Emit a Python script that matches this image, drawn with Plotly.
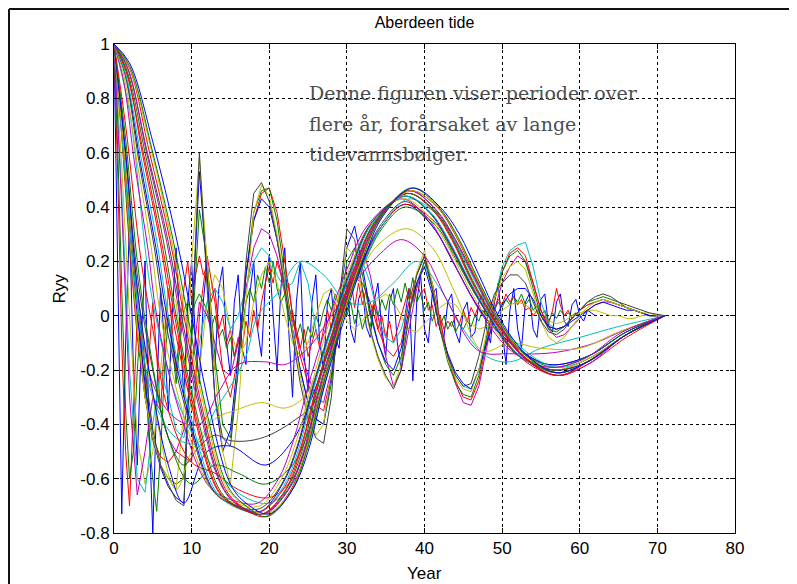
import numpy as np
import plotly.graph_objects as go

# ---------------- data ----------------
X_TICKS = [0, 10, 20, 30, 40, 50, 60, 70, 80]
Y_TICKS = [1, 0.8, 0.6, 0.4, 0.2, 0, -0.2, -0.4, -0.6, -0.8]
Y_TICK_TEXT = ["1", "0.8", "0.6", "0.4", "0.2", "0", "-0.2", "-0.4", "-0.6", "-0.8"]

# main bundle (long period), smooth curves: knot years and Ryy values
yrs_b01 = [0, 2, 5, 8, 10, 12, 15, 17, 20, 23, 25, 27, 29.8, 32, 34.5, 38.5, 42, 44.5, 47, 49.5, 53, 57, 61, 66, 71]
ryy_b01 = [1, 0.93, 0.64, 0.29, 0, -0.30, -0.62, -0.69, -0.73, -0.64, -0.50, -0.27, 0, 0.19, 0.36, 0.47, 0.40, 0.30, 0.15, 0, -0.14, -0.21, -0.17, -0.07, 0]
yrs_b02 = [0, 2, 5, 7.6, 9.5, 11.6, 14.7, 17, 19.7, 22.8, 24.8, 26.8, 29.6, 31.8, 34.3, 38.3, 41.8, 44.3, 46.8, 49.3, 52.8, 57, 61, 66, 71]
ryy_b02 = [1, 0.92, 0.60, 0.28, 0, -0.31, -0.63, -0.70, -0.74, -0.65, -0.50, -0.27, 0, 0.19, 0.36, 0.47, 0.40, 0.29, 0.14, 0, -0.14, -0.21, -0.17, -0.07, 0]
yrs_b03 = [0, 2, 4.5, 7.2, 9, 11.2, 14.4, 16.8, 19.5, 22.6, 24.6, 26.6, 29.4, 31.6, 34.1, 38.2, 41.6, 44.1, 46.6, 49.2, 52.8, 57.2, 61, 66, 71]
ryy_b03 = [1, 0.91, 0.61, 0.28, 0, -0.32, -0.64, -0.71, -0.74, -0.65, -0.51, -0.28, 0, 0.19, 0.35, 0.46, 0.40, 0.29, 0.14, 0, -0.15, -0.22, -0.17, -0.07, 0]
yrs_b04 = [0, 1.8, 4.2, 6.8, 8.5, 10.8, 14.1, 16.6, 19.3, 22.4, 24.4, 26.4, 29.2, 31.4, 33.9, 38, 41.4, 43.9, 46.4, 49, 52.6, 57, 61, 66, 71]
ryy_b04 = [1, 0.91, 0.60, 0.27, 0, -0.32, -0.64, -0.71, -0.73, -0.64, -0.50, -0.27, 0, 0.19, 0.35, 0.46, 0.39, 0.28, 0.14, 0, -0.15, -0.22, -0.18, -0.07, 0]
yrs_b05 = [0, 1.7, 4, 6.4, 8, 10.4, 13.8, 16.4, 19.2, 22.2, 24.2, 26.2, 29, 31.2, 33.7, 37.8, 41.2, 43.7, 46.2, 48.8, 52.4, 57, 61, 66, 71]
ryy_b05 = [1, 0.90, 0.60, 0.27, 0, -0.33, -0.65, -0.71, -0.73, -0.64, -0.50, -0.27, 0, 0.18, 0.35, 0.45, 0.39, 0.28, 0.13, 0, -0.14, -0.21, -0.17, -0.07, 0]
yrs_b06 = [0, 1.6, 3.7, 6, 7.5, 10, 13.5, 16.2, 19, 22, 24, 26, 28.8, 31, 33.5, 37.8, 41, 43.5, 46, 48.6, 52.2, 57, 61, 66, 71]
ryy_b06 = [1, 0.90, 0.59, 0.26, 0, -0.33, -0.65, -0.71, -0.72, -0.63, -0.49, -0.27, 0, 0.18, 0.34, 0.45, 0.39, 0.28, 0.13, 0, -0.15, -0.22, -0.18, -0.08, 0]
yrs_b07 = [0, 1.5, 3.5, 5.6, 7, 9.6, 13.2, 16, 19, 21.8, 23.8, 25.8, 28.6, 30.8, 33.3, 37.6, 40.8, 43.3, 45.8, 48.4, 52, 56.8, 61, 66, 71]
ryy_b07 = [1, 0.89, 0.58, 0.26, 0, -0.34, -0.65, -0.71, -0.72, -0.63, -0.49, -0.26, 0, 0.18, 0.34, 0.44, 0.38, 0.27, 0.13, 0, -0.14, -0.21, -0.17, -0.07, 0]
yrs_b08 = [0, 1.4, 3.2, 5.2, 6.5, 9.2, 12.9, 15.8, 18.8, 21.6, 23.6, 25.6, 28.4, 30.6, 33.1, 37.5, 40.6, 43.1, 45.6, 48.2, 51.8, 56.5, 61, 66, 71]
ryy_b08 = [1, 0.89, 0.57, 0.25, 0, -0.34, -0.65, -0.70, -0.71, -0.62, -0.48, -0.26, 0, 0.18, 0.34, 0.44, 0.38, 0.27, 0.13, 0, -0.14, -0.20, -0.17, -0.07, 0]
yrs_b09 = [0, 1.3, 3, 4.8, 6, 8.8, 12.6, 15.6, 18.8, 21.4, 23.4, 25.4, 28, 30.3, 32.9, 37.3, 40.4, 42.9, 45.4, 47.8, 51.5, 56.5, 61, 66, 71]
ryy_b09 = [1, 0.88, 0.56, 0.25, 0, -0.35, -0.64, -0.69, -0.70, -0.61, -0.47, -0.26, 0, 0.17, 0.33, 0.43, 0.37, 0.26, 0.12, 0, -0.13, -0.20, -0.16, -0.07, 0]
yrs_b10 = [0, 1.2, 2.7, 4.4, 5.5, 8.4, 12.3, 15.4, 18.5, 21.2, 23.1, 25.1, 27.8, 30, 32.6, 37, 40.1, 42.6, 45.1, 47.5, 51.2, 56, 60.5, 65.5, 71]
ryy_b10 = [1, 0.87, 0.55, 0.24, 0, -0.35, -0.63, -0.68, -0.69, -0.60, -0.46, -0.25, 0, 0.17, 0.33, 0.43, 0.37, 0.26, 0.12, 0, -0.13, -0.19, -0.16, -0.06, 0]
yrs_b11 = [0, 1.9, 4.8, 7.4, 9.2, 11.4, 14.5, 16.9, 19.6, 22.7, 24.7, 26.7, 29.5, 31.7, 34.2, 38.2, 41.7, 44.2, 46.7, 49.2, 52.7, 57, 61, 66, 71]
ryy_b11 = [1, 0.92, 0.61, 0.28, 0, -0.31, -0.63, -0.70, -0.73, -0.65, -0.50, -0.27, 0, 0.19, 0.35, 0.46, 0.40, 0.29, 0.14, 0, -0.14, -0.21, -0.17, -0.07, 0]
yrs_b12 = [0, 1.75, 4.3, 7, 8.7, 11, 14.2, 16.7, 19.4, 22.5, 24.5, 26.5, 29.3, 31.5, 34, 38.1, 41.5, 44, 46.5, 49.1, 52.7, 57.1, 61, 66, 71]
ryy_b12 = [1, 0.91, 0.60, 0.27, 0, -0.32, -0.64, -0.71, -0.73, -0.64, -0.50, -0.27, 0, 0.19, 0.35, 0.46, 0.39, 0.28, 0.14, 0, -0.15, -0.22, -0.17, -0.07, 0]
yrs_b13 = [0, 1.55, 3.85, 6.2, 7.8, 10.2, 13.6, 16.3, 19.1, 22.1, 24.1, 26.1, 28.9, 31.1, 33.6, 37.8, 41.1, 43.6, 46.1, 48.7, 52.3, 57, 61, 66, 71]
ryy_b13 = [1, 0.90, 0.59, 0.26, 0, -0.33, -0.65, -0.71, -0.73, -0.64, -0.49, -0.27, 0, 0.18, 0.34, 0.45, 0.39, 0.28, 0.13, 0, -0.14, -0.21, -0.17, -0.07, 0]
yrs_b14 = [0, 1.45, 3.35, 5.4, 6.8, 9.4, 13, 15.9, 18.9, 21.7, 23.7, 25.7, 28.5, 30.7, 33.2, 37.5, 40.7, 43.2, 45.7, 48.3, 51.9, 56.7, 61, 66, 71]
ryy_b14 = [1, 0.89, 0.57, 0.25, 0, -0.34, -0.65, -0.70, -0.72, -0.62, -0.48, -0.26, 0, 0.18, 0.34, 0.44, 0.38, 0.27, 0.13, 0, -0.14, -0.20, -0.17, -0.07, 0]

# shallower long-period curves
yrs_s1 = [0, 2, 4, 5, 8, 11, 14, 17, 20, 23, 25, 27, 29.5, 32, 34.5, 38, 42, 44.5, 47, 49, 53, 57, 61, 66, 71]
ryy_s1 = [1, 0.75, 0.25, 0.05, -0.30, -0.48, -0.60, -0.67, -0.69, -0.62, -0.48, -0.27, 0, 0.18, 0.33, 0.43, 0.36, 0.24, 0.10, 0, -0.13, -0.19, -0.16, -0.07, 0]
yrs_s2 = [0, 1.5, 3.5, 5, 7, 10, 13, 16, 20, 23, 25, 27, 29.3, 32, 34.5, 37.5, 41.5, 44, 46.5, 48.5, 52.5, 56.5, 61, 66, 71]
ryy_s2 = [1, 0.70, 0.20, -0.05, -0.35, -0.54, -0.58, -0.64, -0.67, -0.60, -0.46, -0.25, 0, 0.19, 0.33, 0.41, 0.34, 0.22, 0.09, 0, -0.13, -0.20, -0.16, -0.07, 0]
yrs_s3 = [0, 1.5, 3, 4.5, 7, 10, 13, 16, 19.5, 23, 25, 27, 29.2, 32, 34.5, 37.5, 41.5, 44, 46.5, 48.5, 52.5, 56.5, 61, 66, 71]
ryy_s3 = [1, 0.65, 0.20, -0.10, -0.45, -0.62, -0.55, -0.58, -0.62, -0.55, -0.43, -0.24, 0, 0.18, 0.32, 0.40, 0.33, 0.21, 0.08, 0, -0.13, -0.19, -0.15, -0.06, 0]
yrs_s4 = [0, 1.5, 3, 4.5, 7, 9, 12, 15, 19.5, 23, 25.5, 28, 30, 32, 34.5, 37.5, 41, 44, 46.5, 48.5, 52, 56, 61, 66, 71]
ryy_s4 = [1, 0.60, 0.10, -0.20, -0.55, -0.69, -0.50, -0.48, -0.55, -0.46, -0.30, -0.10, 0.05, 0.20, 0.33, 0.41, 0.33, 0.18, 0.05, -0.03, -0.12, -0.18, -0.15, -0.06, 0]
yrs_s5 = [0, 1.5, 3, 5, 7, 9, 11, 13, 15, 17.5, 20, 23, 25.5, 28, 30, 32, 34.5, 37.5, 41, 44, 46.5, 48.5, 52, 56, 61, 66, 71]
ryy_s5 = [1, 0.60, 0.15, -0.20, -0.45, -0.55, -0.48, -0.44, -0.46, -0.46, -0.44, -0.39, -0.33, -0.15, 0.05, 0.20, 0.34, 0.42, 0.33, 0.18, 0.05, -0.03, -0.12, -0.18, -0.15, -0.06, 0]
yrs_s6 = [0, 1.5, 3, 5, 8, 10, 13, 15.5, 19, 22, 24.5, 27, 29, 31, 34, 37.7, 41, 44, 47.5, 51, 55, 60, 65, 71]
ryy_s6 = [1, 0.55, 0.10, -0.30, -0.64, -0.50, -0.38, -0.35, -0.32, -0.34, -0.30, -0.15, 0, 0.12, 0.26, 0.32, 0.25, 0.08, -0.13, -0.10, -0.12, -0.12, -0.06, 0]
yrs_s7 = [0, 1.5, 3, 5, 8, 11, 13.5, 16, 19.5, 22, 25, 28, 31, 34, 37, 40, 43, 47, 51, 55, 58, 62, 66, 71]
ryy_s7 = [1, 0.55, 0.10, -0.25, -0.38, -0.40, -0.28, -0.18, -0.17, -0.18, -0.12, 0.00, 0.12, 0.22, 0.28, 0.22, 0.05, -0.13, -0.14, -0.14, -0.13, -0.10, -0.05, 0]
yrs_s8 = [0, 1.5, 3, 5, 8, 10.7, 13, 15, 17, 18.5, 21, 24, 27, 30, 33, 36, 39, 42, 45, 48, 51, 55, 60, 65, 71]
ryy_s8 = [1, 0.50, 0.05, -0.30, -0.45, -0.47, -0.35, -0.26, -0.15, 0, 0.08, 0.20, 0.15, 0.05, 0.05, 0.12, 0.20, 0.10, -0.05, -0.15, -0.17, -0.12, -0.08, -0.04, 0]

# shorter-period curves, one value per year of lag (0..71)
ryy_p1 = [1.00, 0.75, 0.35, 0.05, -0.20, -0.42, -0.55, -0.62, -0.68, -0.70, -0.05, 0.60, 0.10, -0.30, -0.45, -0.48, -0.20, 0.20, 0.45, 0.49,
          0.42, 0.28, 0.10, -0.08, -0.25, -0.38, -0.45, -0.47, -0.30, 0.05, 0.32, 0.28, 0.10, -0.05, -0.15, -0.22, -0.27, -0.20, 0.00, 0.15,
          0.22, 0.10, -0.05, -0.15, -0.22, -0.26, -0.25, -0.15, -0.02, 0.08, 0.12, 0.15, 0.15, 0.12, 0.05, -0.02, -0.06, -0.07, -0.05, -0.01,
          0.02, 0.05, 0.07, 0.08, 0.07, 0.05, 0.04, 0.03, 0.02, 0.01, 0.005, 0.00]
ryy_p2 = [1.00, 0.70, 0.30, -0.05, -0.30, -0.45, -0.55, -0.60, -0.64, -0.35, 0.20, 0.58, 0.20, -0.20, -0.50, -0.62, -0.35, 0.05, 0.38, 0.48,
          0.44, 0.30, 0.12, -0.05, -0.22, -0.36, -0.44, -0.40, -0.20, 0.08, 0.25, 0.22, 0.08, -0.06, -0.16, -0.23, -0.26, -0.18, 0.00, 0.16,
          0.24, 0.12, -0.04, -0.16, -0.23, -0.27, -0.28, -0.20, -0.06, 0.06, 0.14, 0.18, 0.20, 0.17, 0.08, -0.02, -0.08, -0.10, -0.08, -0.04,
          0.00, 0.03, 0.05, 0.06, 0.05, 0.04, 0.03, 0.02, 0.01, 0.01, 0.00, 0.00]
ryy_p3 = [1.00, 0.72, 0.32, 0.00, -0.25, -0.45, -0.56, -0.63, -0.67, -0.69, -0.05, 0.53, 0.15, -0.30, -0.50, -0.42, -0.15, 0.15, 0.35, 0.43,
          0.40, 0.28, 0.12, -0.05, -0.20, -0.32, -0.38, -0.40, -0.22, 0.05, 0.25, 0.33, 0.18, 0.02, -0.10, -0.17, -0.20, -0.12, 0.02, 0.12,
          0.18, 0.08, -0.05, -0.14, -0.21, -0.25, -0.27, -0.20, -0.10, -0.02, 0.04, 0.08, 0.10, 0.10, 0.06, 0.00, -0.04, -0.05, -0.04, -0.02,
          0.00, 0.02, 0.04, 0.05, 0.04, 0.03, 0.02, 0.02, 0.01, 0.00, 0.00, 0.00]
ryy_p4 = [1.00, 0.68, 0.28, -0.05, -0.30, -0.46, -0.55, -0.60, -0.62, -0.60, -0.10, 0.39, 0.20, -0.15, -0.40, -0.45, -0.20, 0.15, 0.38, 0.46,
          0.47, 0.35, 0.15, -0.05, -0.20, -0.32, -0.38, -0.40, -0.25, 0.00, 0.20, 0.25, 0.15, 0.00, -0.10, -0.18, -0.22, -0.15, 0.00, 0.12,
          0.20, 0.10, -0.05, -0.17, -0.25, -0.29, -0.30, -0.22, -0.08, 0.06, 0.16, 0.22, 0.24, 0.20, 0.10, 0.00, -0.05, -0.06, -0.04, -0.01,
          0.02, 0.05, 0.06, 0.07, 0.06, 0.05, 0.03, 0.02, 0.01, 0.00, 0.00, 0.00]
ryy_p5 = [1.00, 0.66, 0.25, -0.08, -0.30, -0.45, -0.52, -0.54, -0.50, -0.52, -0.54, 0.00, 0.22, 0.05, -0.20, -0.30, -0.15, 0.15, 0.35, 0.45,
          0.47, 0.38, 0.20, 0.00, -0.15, -0.25, -0.33, -0.35, -0.22, -0.05, 0.10, 0.14, 0.12, 0.05, -0.05, -0.12, -0.15, -0.10, 0.05, 0.15,
          0.22, 0.12, -0.02, -0.15, -0.24, -0.30, -0.31, -0.24, -0.10, 0.05, 0.16, 0.23, 0.25, 0.22, 0.12, 0.02, -0.04, -0.05, -0.04, -0.01,
          0.02, 0.04, 0.05, 0.06, 0.05, 0.04, 0.03, 0.02, 0.01, 0.00, 0.00, 0.00]
ryy_p6 = [1.00, 0.40, -0.30, -0.66, -0.50, -0.30, -0.35, -0.45, -0.50, -0.42, -0.20, 0.05, 0.00, -0.10, -0.20, -0.22, -0.10, 0.10, 0.25, 0.32,
          0.30, 0.22, 0.10, -0.02, -0.12, -0.22, -0.30, -0.32, -0.20, -0.05, 0.10, 0.20, 0.25, 0.15, 0.00, -0.15, -0.26, -0.20, -0.05, 0.10,
          0.20, 0.12, -0.02, -0.15, -0.25, -0.32, -0.33, -0.26, -0.12, 0.02, 0.12, 0.18, 0.22, 0.20, 0.12, 0.02, -0.05, -0.08, -0.07, -0.04,
          -0.01, 0.02, 0.04, 0.05, 0.05, 0.04, 0.03, 0.02, 0.01, 0.00, 0.00, 0.00]
ryy_p7 = [1.00, 0.45, -0.20, -0.60, -0.65, -0.40, -0.20, -0.30, -0.42, -0.45, -0.30, -0.10, 0.05, 0.10, 0.05, -0.05, 0.00, 0.10, 0.20, 0.25,
          0.22, 0.15, 0.10, 0.12, 0.20, 0.12, -0.05, -0.15, -0.10, 0.05, 0.15, 0.18, 0.20, 0.12, 0.00, -0.08, -0.10, -0.05, 0.05, 0.15,
          0.22, 0.10, -0.05, -0.15, -0.22, -0.26, -0.27, -0.20, -0.08, 0.06, 0.18, 0.24, 0.26, 0.27, 0.18, 0.05, -0.03, -0.05, -0.04, -0.01,
          0.02, 0.04, 0.05, 0.06, 0.05, 0.04, 0.03, 0.02, 0.01, 0.00, 0.00, 0.00]
ryy_f1 = [1.00, 0.55, 0.00, -0.45, -0.62, -0.50, -0.20, 0.10, 0.05, -0.20, -0.35, -0.20, 0.05, 0.15, 0.10, -0.05, -0.15, -0.10, 0.05, 0.15,
          0.20, 0.12, 0.00, -0.10, -0.15, -0.10, 0.00, 0.08, 0.10, 0.05, -0.02, -0.05, -0.02, 0.03, 0.06, 0.08, 0.05, 0.00, -0.05, -0.06,
          -0.03, 0.00, 0.03, 0.05, 0.04, 0.00, -0.03, -0.05, -0.04, -0.01, 0.02, 0.04, 0.05, 0.04, 0.02, 0.00, -0.02, -0.03, -0.02, 0.00,
          0.01, 0.02, 0.02, 0.01, 0.00, 0.00, -0.01, -0.01, 0.00, 0.00, 0.00, 0.00]

# noisy curves, one value every half year of lag
ryy_n1 = [1.0, 0.2, -0.73, -0.1, 0.35, -0.2, -0.55, -0.1, 0.2, -0.4, -0.80, -0.3, 0.1, -0.1, -0.35, 0.0, 0.25, -0.05, -0.3, 0.05,
          0.2, -0.1, -0.25, 0.05, 0.2, -0.05, -0.2, 0.1, 0.18, -0.1, -0.22, 0.05, 0.15, -0.12, -0.18, 0.08, 0.2, -0.05, -0.15, 0.12,
          0.22, 0.0, -0.2, 0.1, 0.25, -0.05, -0.3, 0.05, 0.2, -0.15, -0.28, 0.05, 0.15, -0.1, -0.2, 0.05, 0.1, -0.08, -0.12, 0.08,
          0.12, -0.05, -0.1, 0.06, 0.1, -0.04, -0.08, 0.05, 0.12, -0.05, -0.15, 0.05, 0.1, -0.1, -0.2, 0.0, 0.1, -0.24, 0.05, 0.15,
          -0.05, -0.1, 0.08, 0.1, -0.05, -0.08, 0.05, 0.08, -0.06, -0.1, 0.02, 0.05, -0.08, -0.06, 0.05, 0.08, -0.05, -0.1, 0.05, 0.12,
          -0.05, -0.18, 0.02, 0.1, -0.05, -0.12, 0.05, 0.08, -0.05, -0.08, 0.06, 0.08, -0.04, -0.06, 0.05, 0.08, -0.02, -0.04, 0.04, 0.06,
          0.0, -0.02, 0.02, 0.01, 0.0]
ryy_n2 = [1.0, 0.5, -0.1, -0.5, -0.70, -0.35, 0.0, -0.1, -0.3, -0.15, 0.05, -0.15, -0.35, -0.1, 0.1, -0.05, -0.2, -0.05, 0.1, 0.2,
          0.05, 0.15, 0.22, 0.15, 0.18, 0.05, 0.1, -0.05, 0.0, -0.1, -0.05, -0.15, -0.08, -0.12, -0.02, -0.08, 0.02, -0.05, 0.05, 0.12,
          0.18, 0.12, 0.2, 0.15, 0.08, 0.12, 0.0, -0.05, -0.12, -0.05, -0.15, -0.1, -0.05, -0.12, -0.05, 0.02, -0.05, 0.05, 0.0, 0.08,
          0.05, 0.14, 0.03, 0.12, 0.04, 0.1, 0.0, 0.05, -0.05, 0.0, -0.08, -0.02, -0.1, -0.05, 0.0, 0.05, 0.1, 0.05, 0.12, 0.08,
          0.1, 0.02, 0.04, -0.04, 0.0, -0.05, -0.02, -0.04, 0.0, -0.03, 0.02, -0.02, 0.03, 0.0, 0.04, 0.01, 0.03, 0.05, 0.02, 0.06,
          0.04, 0.08, 0.05, 0.07, 0.04, 0.06, 0.02, 0.03, 0.0, 0.02, -0.02, 0.0, -0.03, 0.02, 0.1, 0.04, 0.0, 0.02, -0.01, 0.01,
          0.0]
ryy_n3 = [1.0, 0.6, 0.1, -0.35, -0.6, -0.5, -0.2, 0.0, -0.2, -0.45, -0.6, -0.72, -0.5, -0.2, 0.0, -0.1, -0.25, -0.1, 0.02, 0.05,
          0.0, 0.05, 0.08, 0.05, 0.02, -0.05, 0.0, -0.08, -0.05, -0.12, -0.08, -0.15, -0.1, -0.05, 0.05, 0.1, 0.05, 0.15, 0.1, 0.18,
          0.12, 0.2, 0.1, 0.05, 0.08, -0.02, 0.02, -0.08, -0.03, -0.1, -0.04, -0.08, 0.0, -0.04, 0.02, 0.06, 0.02, 0.08, 0.04, 0.06,
          0.0, 0.05, -0.03, 0.02, -0.05, 0.0, -0.04, 0.03, 0.0, 0.06, 0.02, 0.08, 0.04, 0.1, 0.05, 0.12, 0.06, 0.14, 0.05, 0.08,
          0.02, 0.05, -0.02, 0.02, -0.04, 0.0, -0.05, -0.02, -0.06, -0.03, -0.05, -0.02, -0.04, 0.0, -0.02, 0.02, 0.0, 0.04, 0.02, 0.05,
          0.03, 0.06, 0.04, 0.07, 0.05, 0.08, 0.04, 0.06, 0.02, 0.04, 0.0, 0.02, -0.02, 0.01, -0.01, 0.02, 0.0, 0.01, 0.0, 0.01,
          0.0]

# MATLAB classic line colour order
BLUE, GREEN, RED, CYAN, MAGENTA, YELLOW, GREY = (
    "#0000ff", "#008000", "#ff0000", "#00bfbf", "#bf00bf", "#bfbf00", "#404040")

fig = go.Figure()


def add(xs, ys, color, shape="linear"):
    fig.add_trace(go.Scatter(x=xs, y=ys, mode="lines",
                             line=dict(color=color, width=1, shape=shape),
                             showlegend=False, hoverinfo="skip"))


add(np.arange(len(ryy_n1)) * 0.5, ryy_n1, BLUE)
add(np.arange(len(ryy_n2)) * 0.5, ryy_n2, RED)
add(np.arange(len(ryy_n3)) * 0.5, ryy_n3, GREEN)

years = np.arange(len(ryy_p1))
for vals, col in [(ryy_f1, YELLOW), (ryy_p7, CYAN), (ryy_p6, MAGENTA), (ryy_p5, RED),
                  (ryy_p4, GREEN), (ryy_p3, BLUE), (ryy_p2, YELLOW), (ryy_p1, GREY)]:
    add(years, vals, col)

for xs, ys, col in [(yrs_s8, ryy_s8, CYAN), (yrs_s7, ryy_s7, MAGENTA), (yrs_s6, ryy_s6, YELLOW),
                    (yrs_s5, ryy_s5, GREY), (yrs_s4, ryy_s4, BLUE), (yrs_s3, ryy_s3, GREEN),
                    (yrs_s2, ryy_s2, RED), (yrs_s1, ryy_s1, CYAN)]:
    add(xs, ys, col, "spline")

for xs, ys, col in [(yrs_b10, ryy_b10, MAGENTA), (yrs_b14, ryy_b14, BLUE), (yrs_b09, ryy_b09, YELLOW),
                    (yrs_b08, ryy_b08, GREY), (yrs_b07, ryy_b07, CYAN), (yrs_b13, ryy_b13, RED),
                    (yrs_b06, ryy_b06, RED), (yrs_b05, ryy_b05, GREEN), (yrs_b12, ryy_b12, GREY),
                    (yrs_b04, ryy_b04, MAGENTA), (yrs_b03, ryy_b03, RED), (yrs_b11, ryy_b11, YELLOW),
                    (yrs_b02, ryy_b02, GREEN), (yrs_b01, ryy_b01, BLUE)]:
    add(xs, ys, col, "spline")

axis_font = dict(family="Liberation Sans, Arial, sans-serif", size=17, color="#000000")
common = dict(showgrid=True, gridcolor="#000000", gridwidth=1, griddash="3px,3px",
              zeroline=False, showline=True, linecolor="#000000", linewidth=1,
              mirror="ticks", ticks="inside", ticklen=5, tickcolor="#000000",
              tickfont=axis_font)

fig.update_xaxes(range=[0, 80], tickvals=X_TICKS, ticktext=[str(v) for v in X_TICKS], **common)
fig.update_yaxes(range=[-0.8, 1], tickvals=Y_TICKS, ticktext=Y_TICK_TEXT, **common)

# the page adds an 8 px body margin, so the figure is 8 px smaller than the window
fig.update_layout(
    width=789, height=576,
    margin=dict(l=106, r=62, t=36, b=51),
    paper_bgcolor="#ffffff", plot_bgcolor="#ffffff",
    title=dict(text="Aberdeen tide", xref="paper", x=0.5, xanchor="center",
               y=1 - 14 / 576, yanchor="middle",
               font=dict(family="Liberation Sans, Arial, sans-serif", size=16, color="#000000")),
)

# axis titles
fig.add_annotation(text="Year", xref="paper", yref="paper", x=0.5, y=-0.082, yanchor="middle",
                   showarrow=False, font=axis_font)
fig.add_annotation(text="Ryy", xref="paper", yref="paper", x=-0.087, y=0.5, textangle=-90,
                   xanchor="center", showarrow=False, font=axis_font)

# overlaid explanatory text
note_font = dict(family="DejaVu Serif, serif", size=19, color="#4d4d4d")
for line, ypos in [("Denne figuren viser perioder over", 0.900),
                   ("flere år, forårsaket av lange", 0.836),
                   ("tidevannsbølger.", 0.775)]:
    fig.add_annotation(text=line, xref="paper", yref="paper", x=0.311, y=ypos,
                       xanchor="left", yanchor="middle", showarrow=False, font=note_font)

# outer frame of the screenshot (top and left edges)
fig.add_shape(type="line", xref="paper", yref="paper", x0=-0.1691, x1=1.2, y0=1.0716, y1=1.0716,
              line=dict(color="#111111", width=2))
fig.add_shape(type="line", xref="paper", yref="paper", x0=-0.1691, x1=-0.1691, y0=1.0716, y1=-0.2,
              line=dict(color="#111111", width=2))

fig.write_html("out.html")
